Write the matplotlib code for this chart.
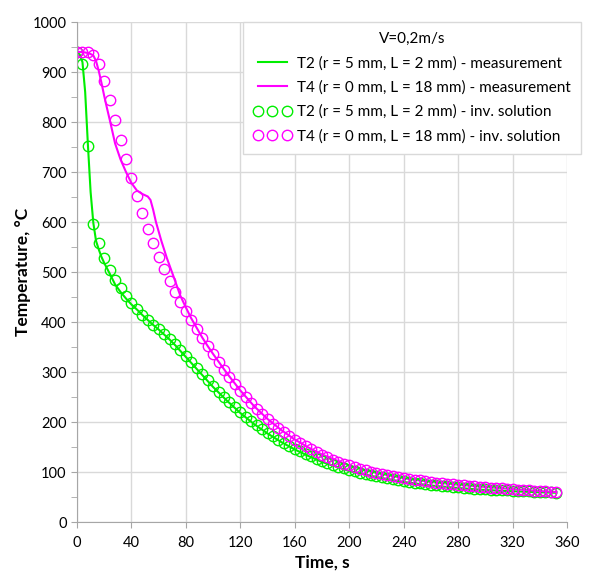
import numpy as np
import matplotlib
matplotlib.use("Agg")
from matplotlib import pyplot as plt

# inverse solution points (every 4 s)
t_inv = [0, 4, 8, 12, 16, 20, 24, 28, 32, 36, 40, 44, 48, 52, 56, 60, 64, 68, 72, 76,
         80, 84, 88, 92, 96, 100, 104, 108, 112, 116, 120, 124, 128, 132, 136, 140, 144,
         148, 152, 156, 160, 164, 168, 172, 176, 180, 184, 188, 192, 196, 200, 204, 208,
         212, 216, 220, 224, 228, 232, 236, 240, 244, 248, 252, 256, 260, 264, 268, 272,
         276, 280, 284, 288, 292, 296, 300, 304, 308, 312, 316, 320, 324, 328, 332, 336,
         340, 344, 348, 352]
T2_inv = [940, 916, 752, 597, 558, 528, 505, 485, 468, 452, 438, 426, 414, 404, 395, 386,
          377, 367, 356, 344, 332, 320, 308, 296, 284, 272, 261, 250, 240, 230, 220, 211,
          202, 194, 186, 179, 172, 165, 159, 153, 147, 142, 137, 132, 127, 123, 119, 115,
          111, 108, 105, 102, 99, 96.5, 94, 92, 90, 88, 86, 84, 82, 80.5, 79, 77.5, 76, 75,
          74, 72.5, 71.5, 70.5, 69.5, 68.5, 67.5, 67, 66, 65.5, 65, 64.5, 64, 63.5, 63,
          62.5, 62, 61.5, 61, 60.5, 60, 59.5, 59]
T4_inv = [940, 941, 940, 935, 916, 883, 845, 805, 765, 726, 689, 653, 619, 587, 558, 530,
          506, 483, 461, 441, 423, 404, 386, 369, 352, 336, 320, 305, 290, 276, 263, 250,
          238, 227, 216, 206, 197, 188, 180, 172, 165, 158, 152, 146, 140, 135, 130, 125,
          121, 117, 113.5, 110, 107, 104, 101, 98.5, 96, 94, 92, 90, 88, 86.5, 85, 83.5,
          82, 80.5, 79, 78, 77, 76, 75, 74, 73, 72, 71, 70, 69, 68.5, 67.5, 67, 66, 65,
          64.5, 63.5, 63, 62, 61.5, 60.5, 60]

# measurements
t2_meas = [0, 2, 4, 6, 8, 10, 12, 14, 16, 18, 20, 24, 28, 32, 36, 40, 44, 48, 52, 56, 60,
           64, 68, 72, 76, 80, 90, 100, 110, 120, 130, 140, 150, 160, 170, 180, 200, 220,
           240, 260, 280, 300, 320, 340, 352]
T2_meas = [940, 935, 920, 860, 755, 660, 598, 562, 545, 530, 518, 497, 475, 460, 447, 435,
           425, 414, 404, 394, 385, 375, 365, 354, 342, 330, 300, 270, 243, 218, 196, 177,
           160, 145, 132, 120, 102, 90, 80, 73, 68, 64, 61.5, 59.5, 58.5]
t4_meas = [0, 4, 8, 10, 12, 14, 16, 18, 20, 22, 24, 28, 32, 36, 40, 44, 48, 52, 54, 56, 58,
           62, 66, 70, 76, 80, 84, 88, 92, 96, 100, 110, 120, 130, 140, 150, 160, 170, 180,
           200, 220, 240, 260, 280, 300, 320, 340, 352]
T4_meas = [940, 940, 938, 936, 933, 922, 902, 878, 852, 828, 805, 757, 725, 700, 678, 663,
           656, 651, 644, 624, 600, 562, 528, 498, 452, 429, 407, 388, 369, 352, 336, 298,
           263, 232, 206, 184, 165, 149, 135, 113, 98, 87.5, 80, 74.5, 70, 66, 62, 60]

green = '#00ee00'
magenta = '#ff00ff'
grid_c = '#d9d9d9'

plt.rcParams['font.family'] = ['Lato', 'DejaVu Sans']
fig = plt.figure(figsize=(5.94, 5.75), dpi=100)
ax = fig.add_axes([77 / 594, 53 / 575, 490 / 594, 500 / 575])

ax.plot(t2_meas, T2_meas, '-', color=green, lw=1.5,
        label='T2 (r = 5 mm, L = 2 mm) - measurement')
ax.plot(t4_meas, T4_meas, '-', color=magenta, lw=1.5,
        label='T4 (r = 0 mm, L = 18 mm) - measurement')
ax.plot(t_inv, T2_inv, 'o', mfc='none', mec=green, ms=7.5, mew=1.0,
        label='T2 (r = 5 mm, L = 2 mm) - inv. solution')
ax.plot(t_inv, T4_inv, 'o', mfc='none', mec=magenta, ms=7.5, mew=1.0,
        label='T4 (r = 0 mm, L = 18 mm) - inv. solution')

ax.set_xlim(0, 360)
ax.set_ylim(0, 1000)
ax.set_xticks(np.arange(0, 361, 40))
ax.set_yticks(np.arange(0, 1001, 100))
ax.set_yticks(np.arange(50, 1000, 100), minor=True)
ax.grid(True, which='major', color=grid_c, lw=1.0)
ax.set_axisbelow(True)
for s in ['top', 'right']:
    ax.spines[s].set_visible(False)
for s in ['left', 'bottom']:
    ax.spines[s].set_color('#a6a6a6')
ax.tick_params(which='both', direction='out', color='#a6a6a6', labelsize=10.5,
               labelcolor='#000000')
ax.tick_params(which='major', length=4)
ax.tick_params(which='minor', length=4)
ax.tick_params(axis='x', pad=6)

ax.set_xlabel('Time, s', fontsize=12.5, fontweight='bold', labelpad=3)
ax.set_ylabel('Temperature, \u00b0C', fontsize=12.5, fontweight='bold', labelpad=1)

leg = ax.legend(title='V=0,2m/s', loc='upper right', numpoints=3,
                bbox_to_anchor=(581 / 594, 553 / 575), bbox_transform=fig.transFigure,
                borderaxespad=0, fancybox=False, framealpha=1, edgecolor='#d9d9d9',
                fontsize=11, title_fontsize=11, handlelength=2.5, handletextpad=0.4,
                labelspacing=0.66, borderpad=0.65)
leg.get_frame().set_linewidth(1.0)

fig.savefig('out.png', dpi=100)
